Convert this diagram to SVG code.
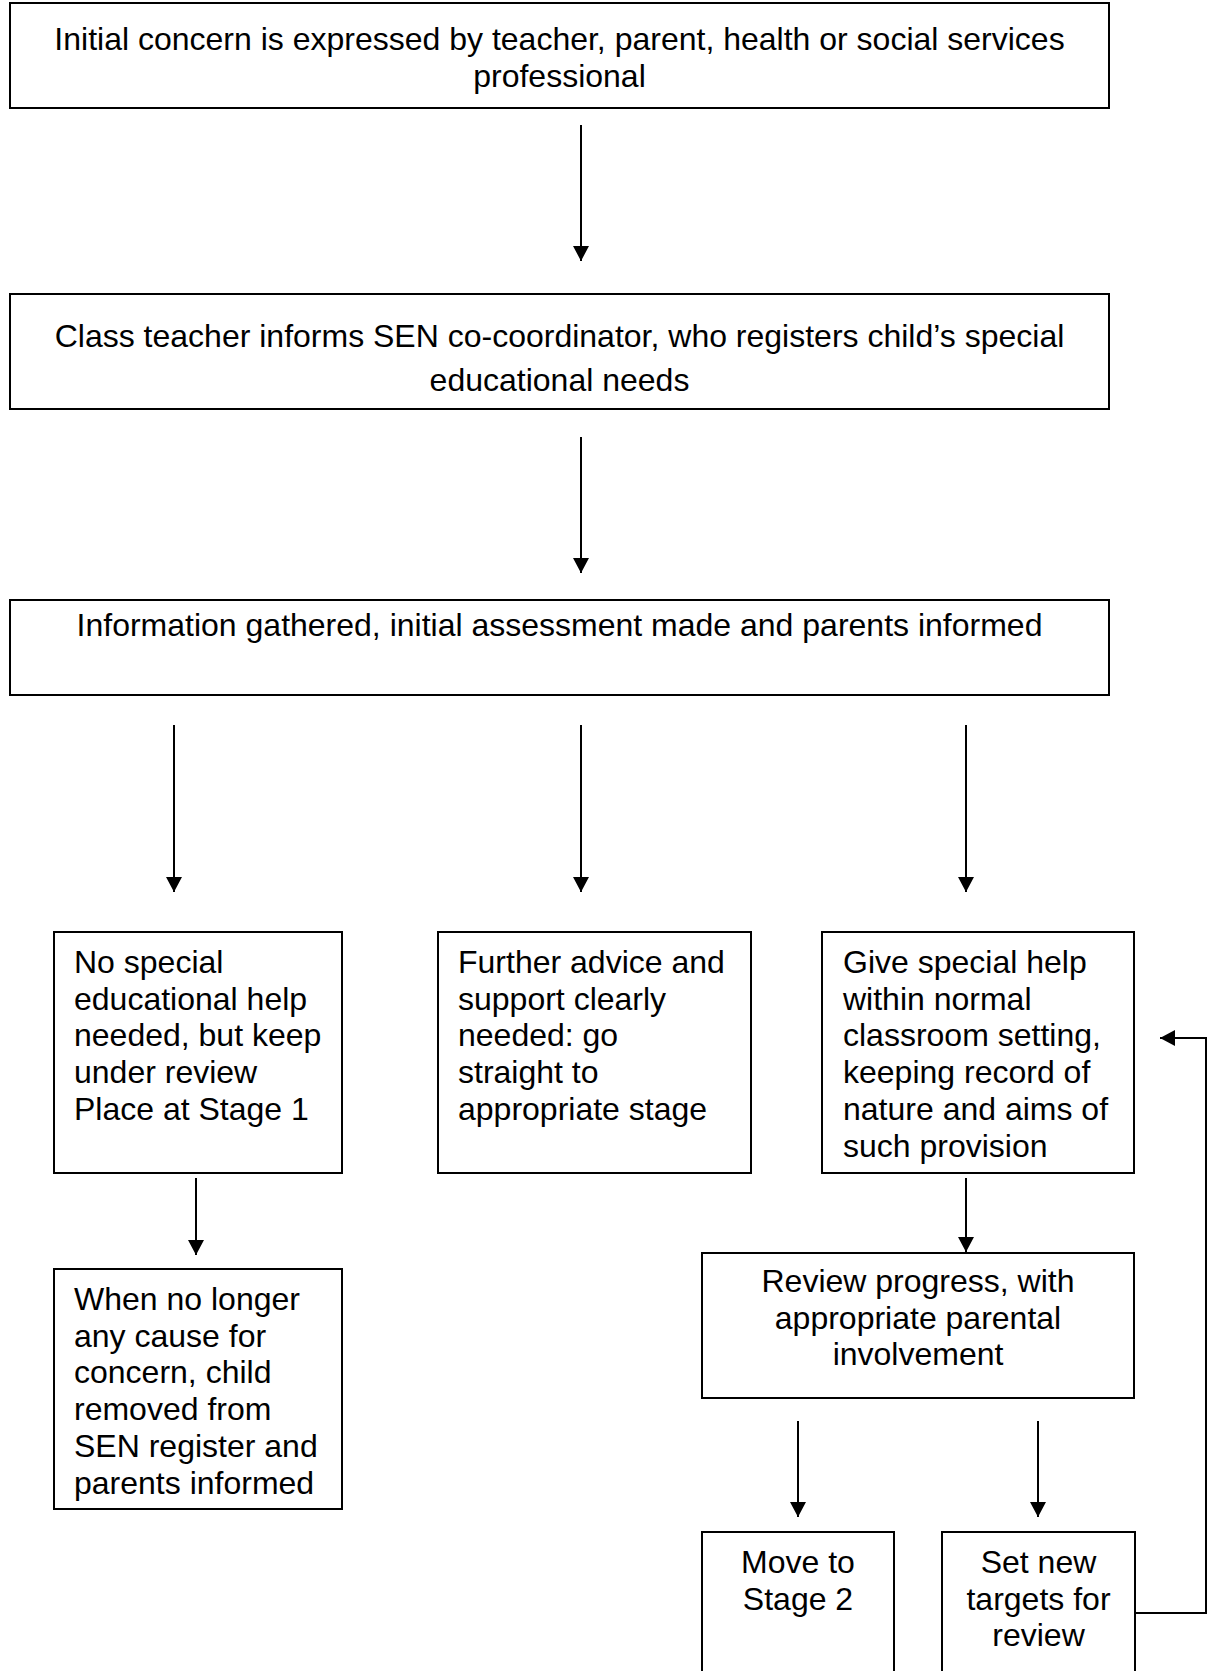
<svg xmlns="http://www.w3.org/2000/svg" width="1210" height="1671" viewBox="0 0 1210 1671">
  <style>
    .box { fill: #ffffff; stroke: #000000; stroke-width: 2; }
    .label { font-family: "Liberation Sans", Arial, sans-serif; font-size: 32px; fill: #000000; }
    .mid { text-anchor: middle; }
    .edge { fill: none; stroke: #000000; stroke-width: 2; }
  </style>
  <defs>
    <marker id="head" markerUnits="userSpaceOnUse" markerWidth="16" markerHeight="16" viewBox="0 0 16 16" refX="15" refY="8" orient="auto">
      <path d="M0,0 L15,8 L0,16 Z" fill="#000000"/>
    </marker>
  </defs>
  <rect width="1210" height="1671" fill="#ffffff"/>

  <!-- connectors -->
  <g id="connectors">
    <line class="edge" x1="581" y1="125" x2="581" y2="261" marker-end="url(#head)"/>
    <line class="edge" x1="581" y1="437" x2="581" y2="573" marker-end="url(#head)"/>
    <line class="edge" x1="174" y1="725" x2="174" y2="892" marker-end="url(#head)"/>
    <line class="edge" x1="581" y1="725" x2="581" y2="892" marker-end="url(#head)"/>
    <line class="edge" x1="966" y1="725" x2="966" y2="892" marker-end="url(#head)"/>
    <line class="edge" x1="196" y1="1178" x2="196" y2="1255" marker-end="url(#head)"/>
    <line class="edge" x1="966" y1="1178" x2="966" y2="1252" marker-end="url(#head)"/>
    <line class="edge" x1="798" y1="1421" x2="798" y2="1517" marker-end="url(#head)"/>
    <line class="edge" x1="1038" y1="1421" x2="1038" y2="1517" marker-end="url(#head)"/>
    <path class="edge" d="M1135,1613 H1206 V1038 H1160" marker-end="url(#head)"/>
  </g>

  <!-- initial concern -->
  <g id="concern">
    <rect class="box" x="10" y="3" width="1099" height="105"/>
    <text class="label mid" x="559.5" y="50">Initial concern is expressed by teacher, parent, health or social services</text>
    <text class="label mid" x="559.5" y="87">professional</text>
  </g>

  <!-- SEN co-ordinator registers -->
  <g id="register">
    <rect class="box" x="10" y="294" width="1099" height="115"/>
    <text class="label mid" x="559.5" y="347">Class teacher informs SEN co-coordinator, who registers child’s special</text>
    <text class="label mid" x="559.5" y="391">educational needs</text>
  </g>

  <!-- assessment -->
  <g id="assessment">
    <rect class="box" x="10" y="600" width="1099" height="95"/>
    <text class="label mid" x="559.5" y="636">Information gathered, initial assessment made and parents informed</text>
  </g>

  <!-- no special help -->
  <g id="no-help">
    <rect class="box" x="54" y="932" width="288" height="241"/>
    <text class="label" x="74" y="973">No special</text>
    <text class="label" x="74" y="1010">educational help</text>
    <text class="label" x="74" y="1046">needed, but keep</text>
    <text class="label" x="74" y="1083">under review</text>
    <text class="label" x="74" y="1120">Place at Stage 1</text>
  </g>

  <!-- further advice -->
  <g id="further-advice">
    <rect class="box" x="438" y="932" width="313" height="241"/>
    <text class="label" x="458" y="973">Further advice and</text>
    <text class="label" x="458" y="1010">support clearly</text>
    <text class="label" x="458" y="1046">needed: go</text>
    <text class="label" x="458" y="1083">straight to</text>
    <text class="label" x="458" y="1120">appropriate stage</text>
  </g>

  <!-- special help in class -->
  <g id="special-help">
    <rect class="box" x="822" y="932" width="312" height="241"/>
    <text class="label" x="843" y="973">Give special help</text>
    <text class="label" x="843" y="1010">within normal</text>
    <text class="label" x="843" y="1046">classroom setting,</text>
    <text class="label" x="843" y="1083">keeping record of</text>
    <text class="label" x="843" y="1120">nature and aims of</text>
    <text class="label" x="843" y="1157">such provision</text>
  </g>

  <!-- removed from register -->
  <g id="removed">
    <rect class="box" x="54" y="1269" width="288" height="240"/>
    <text class="label" x="74" y="1310">When no longer</text>
    <text class="label" x="74" y="1347">any cause for</text>
    <text class="label" x="74" y="1383">concern, child</text>
    <text class="label" x="74" y="1420">removed from</text>
    <text class="label" x="74" y="1457">SEN register and</text>
    <text class="label" x="74" y="1494">parents informed</text>
  </g>

  <!-- review progress -->
  <g id="review">
    <rect class="box" x="702" y="1253" width="432" height="145"/>
    <text class="label mid" x="918" y="1292">Review progress, with</text>
    <text class="label mid" x="918" y="1329">appropriate parental</text>
    <text class="label mid" x="918" y="1365">involvement</text>
  </g>

  <!-- stage 2 -->
  <g id="stage-2">
    <rect class="box" x="702" y="1532" width="192" height="160"/>
    <text class="label mid" x="798" y="1573">Move to</text>
    <text class="label mid" x="798" y="1610">Stage 2</text>
  </g>

  <!-- new targets -->
  <g id="new-targets">
    <rect class="box" x="942" y="1532" width="193" height="160"/>
    <text class="label mid" x="1038.5" y="1573">Set new</text>
    <text class="label mid" x="1038.5" y="1610">targets for</text>
    <text class="label mid" x="1038.5" y="1646">review</text>
  </g>
</svg>
